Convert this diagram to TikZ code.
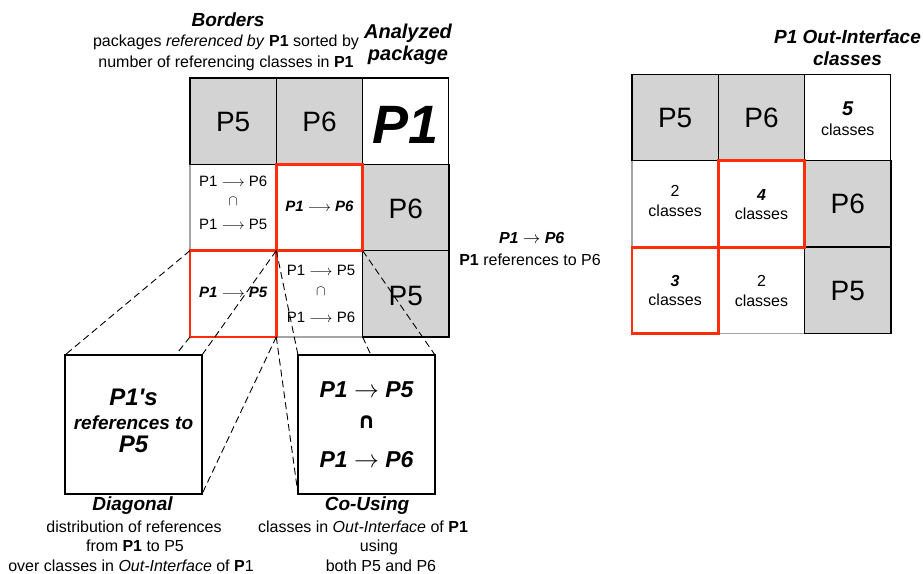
\documentclass[tikz,border=0pt]{standalone}
\usepackage{fontspec}
\setmainfont{Liberation Sans}
\newfontfamily\dejavu{DejaVu Sans}
\definecolor{cellgray}{RGB}{211,211,211}
\definecolor{hired}{RGB}{255,45,10}
\definecolor{lgray}{RGB}{165,165,165}
\newcommand\myfs[1]{\fontsize{#1}{#1}\selectfont}
\tikzset{
 cell/.style={minimum width=86.3pt, minimum height=86.3pt, inner sep=0pt, outer sep=0pt, anchor=center},
 gcell/.style={cell, fill=cellgray, draw=black, line width=1.3pt},
 wcell/.style={cell, fill=white, draw=lgray, line width=1.3pt},
 pcell/.style={cell, fill=white, draw=black, line width=1.1pt},
 rcell/.style={cell, draw=hired, line width=2.8pt},
 lbl/.style={anchor=base, inner sep=0pt, outer sep=0pt},
 zoombox/.style={draw=black, fill=white, line width=2.6pt, inner sep=0pt, outer sep=0pt, minimum width=137pt, minimum height=139pt},
 proj/.style={dash pattern=on 7pt off 4pt, line width=0.9pt},
 head/.style={lbl, font=\myfs{19}\bfseries\itshape},
 desc/.style={lbl, font=\myfs{16}},
 big/.style={lbl, font=\myfs{28}},
 small/.style={lbl, font=\myfs{15}},
 smallbi/.style={lbl, font=\myfs{15}\bfseries\itshape},
 cls/.style={lbl, font=\myfs{16}},
 num/.style={lbl, font=\myfs{16}\bfseries\itshape},
}
\begin{document}
\begin{tikzpicture}[x=1pt,y=-1pt]
\useasboundingbox (0,0) rectangle (923,573);

% ---------- left grid ----------
\node[wcell] (L21) at (233.15,207.45) {};
\node[wcell] (L32) at (319.45,293.75) {};
\node[gcell] (L11) at (233.15,121.15) {};
\node[gcell] (L12) at (319.45,121.15) {};
\node[pcell] (L13) at (405.75,121.15) {};
\node[gcell] (L23) at (405.75,207.45) {};
\node[gcell] (L33) at (405.75,293.75) {};
\node[rcell] (L22) at (319.45,207.45) {};
\node[rcell] (L31) at (233.15,293.75) {};

\node[big] (tL11) at (233.15,131.7) {P5};
\node[big] (tL12) at (319.45,131.7) {P6};
\node[lbl, font=\myfs{54}\bfseries\itshape] (tL13) at (405.75,143.3) {P1};
\node[big] (tL23) at (405.75,218.3) {P6};
\node[big] (tL33) at (405.75,305) {P5};

\node[small] (tL21a) at (233.15,186) {P1 $\longrightarrow$ P6};
\node[small] (tL21b) at (233.15,205.7) {$\cap$};
\node[small] (tL21c) at (233.15,229.3) {P1 $\longrightarrow$ P5};
\node[smallbi] (tL22) at (319.45,211.7) {P1 $\longrightarrow$ P6};
\node[smallbi] (tL31) at (233.15,297.7) {P1 $\longrightarrow$ P5};
\node[small] (tL32a) at (321,275) {P1 $\longrightarrow$ P5};
\node[small] (tL32b) at (321,295) {$\cap$};
\node[small] (tL32c) at (321,322) {P1 $\longrightarrow$ P6};

% ---------- headings ----------
\node[head] (hB) at (228,26) {Borders};
\node[desc] (hB1) at (226,46.7) {packages \textit{referenced by} \textbf{P1} sorted by};
\node[desc] (hB2) at (226,67.7) {number of referencing classes in \textbf{P1}};
\node[lbl, font=\myfs{20}\bfseries\itshape] (hA1) at (408,38.3) {Analyzed};
\node[lbl, font=\myfs{20}\bfseries\itshape] (hA2) at (408,60) {package};

% ---------- projection lines ----------
\node[zoombox] (D) at (133.5,424.5) {};
\node[zoombox] (C) at (366.5,424.5) {};
\draw[proj] (L31.north west) -- (D.north west);
\draw[proj] (L31.north east) -- (D.north east);
\draw[proj] (L31.south west) -- (D.south west);
\draw[proj] (L31.south east) -- (D.south east);
\draw[proj] (L32.north west) -- (C.north west);
\draw[proj] (L32.north east) -- (C.north east);
\draw[proj] (L32.south west) -- (C.south west);
\draw[proj] (L32.south east) -- (C.south east);
\node[zoombox] (D2) at (133.5,424.5) {};
\node[zoombox] (C2) at (366.5,424.5) {};

% ---------- zoom box texts ----------
\node[lbl, font=\myfs{24}\bfseries\itshape] (tD1) at (133.5,405) {P1\textquotesingle s};
\node[lbl, font=\myfs{19}\bfseries\itshape] (tD2) at (133.5,429) {references to};
\node[lbl, font=\myfs{24}\bfseries\itshape] (tD3) at (133.5,452.7) {P5};
\node[lbl, font=\myfs{23}\bfseries\itshape] (tC1) at (366.5,397.3) {P1 $\rightarrow$ P5};
\node[lbl, font=\myfs{22}\dejavu\bfseries] (tC2) at (366.5,428.3) {∩};
\node[lbl, font=\myfs{23}\bfseries\itshape] (tC3) at (366.5,467.3) {P1 $\rightarrow$ P6};

% ---------- captions ----------
\node[head] (cD) at (132.5,510.7) {Diagonal};
\node[desc] (cD1) at (134,532.7) {distribution of references};
\node[desc] (cD2) at (135,551) {from \textbf{P1} to P5};
\node[desc] (cD3) at (131,571) {over classes in \textit{Out-Interface} of \textbf{P}1};
\node[head] (cC) at (367,510.7) {Co-Using};
\node[desc] (cC1) at (363,532.7) {classes in \textit{Out-Interface} of \textbf{P1}};
\node[desc] (cC2) at (379,551) {using};
\node[desc] (cC3) at (381,571) {both P5 and P6};

% ---------- middle label ----------
\node[lbl, font=\myfs{16}\bfseries\itshape] (m1) at (531.7,243.3) {P1 $\rightarrow$ P6};
\node[desc] (m2) at (530,265.7) {\textbf{P1} references to P6};

% ---------- right grid ----------
\node[wcell] (R21) at (675.15,203.95) {};
\node[wcell] (R32) at (761.45,290.25) {};
\node[gcell] (R11) at (675.15,117.65) {};
\node[gcell] (R12) at (761.45,117.65) {};
\node[pcell] (R13) at (847.75,117.65) {};
\node[gcell] (R23) at (847.75,203.95) {};
\node[gcell] (R33) at (847.75,290.25) {};
\node[rcell] (R22) at (761.45,203.95) {};
\node[rcell] (R31) at (675.15,290.25) {};

\node[big] (tR11) at (675.15,127.3) {P5};
\node[big] (tR12) at (761.45,127.3) {P6};
\node[lbl, font=\myfs{20}\bfseries\itshape] (tR13a) at (847.75,115) {5};
\node[cls] (tR13b) at (847.75,135) {classes};
\node[lbl, font=\myfs{16}] (tR21a) at (675.15,196.7) {2};
\node[cls] (tR21b) at (675.15,216) {classes};
\node[num] (tR22a) at (761.45,200) {4};
\node[cls] (tR22b) at (761.45,219) {classes};
\node[big] (tR23) at (847.75,213.3) {P6};
\node[num] (tR31a) at (675.15,286) {3};
\node[cls] (tR31b) at (675.15,305) {classes};
\node[lbl, font=\myfs{16}] (tR32a) at (761.45,286.7) {2};
\node[cls] (tR32b) at (761.45,306) {classes};
\node[big] (tR33) at (847.75,300) {P5};

\node[head] (hR1) at (847.5,43.3) {P1 Out-Interface};
\node[head] (hR2) at (847.5,65) {classes};
\end{tikzpicture}
\end{document}
